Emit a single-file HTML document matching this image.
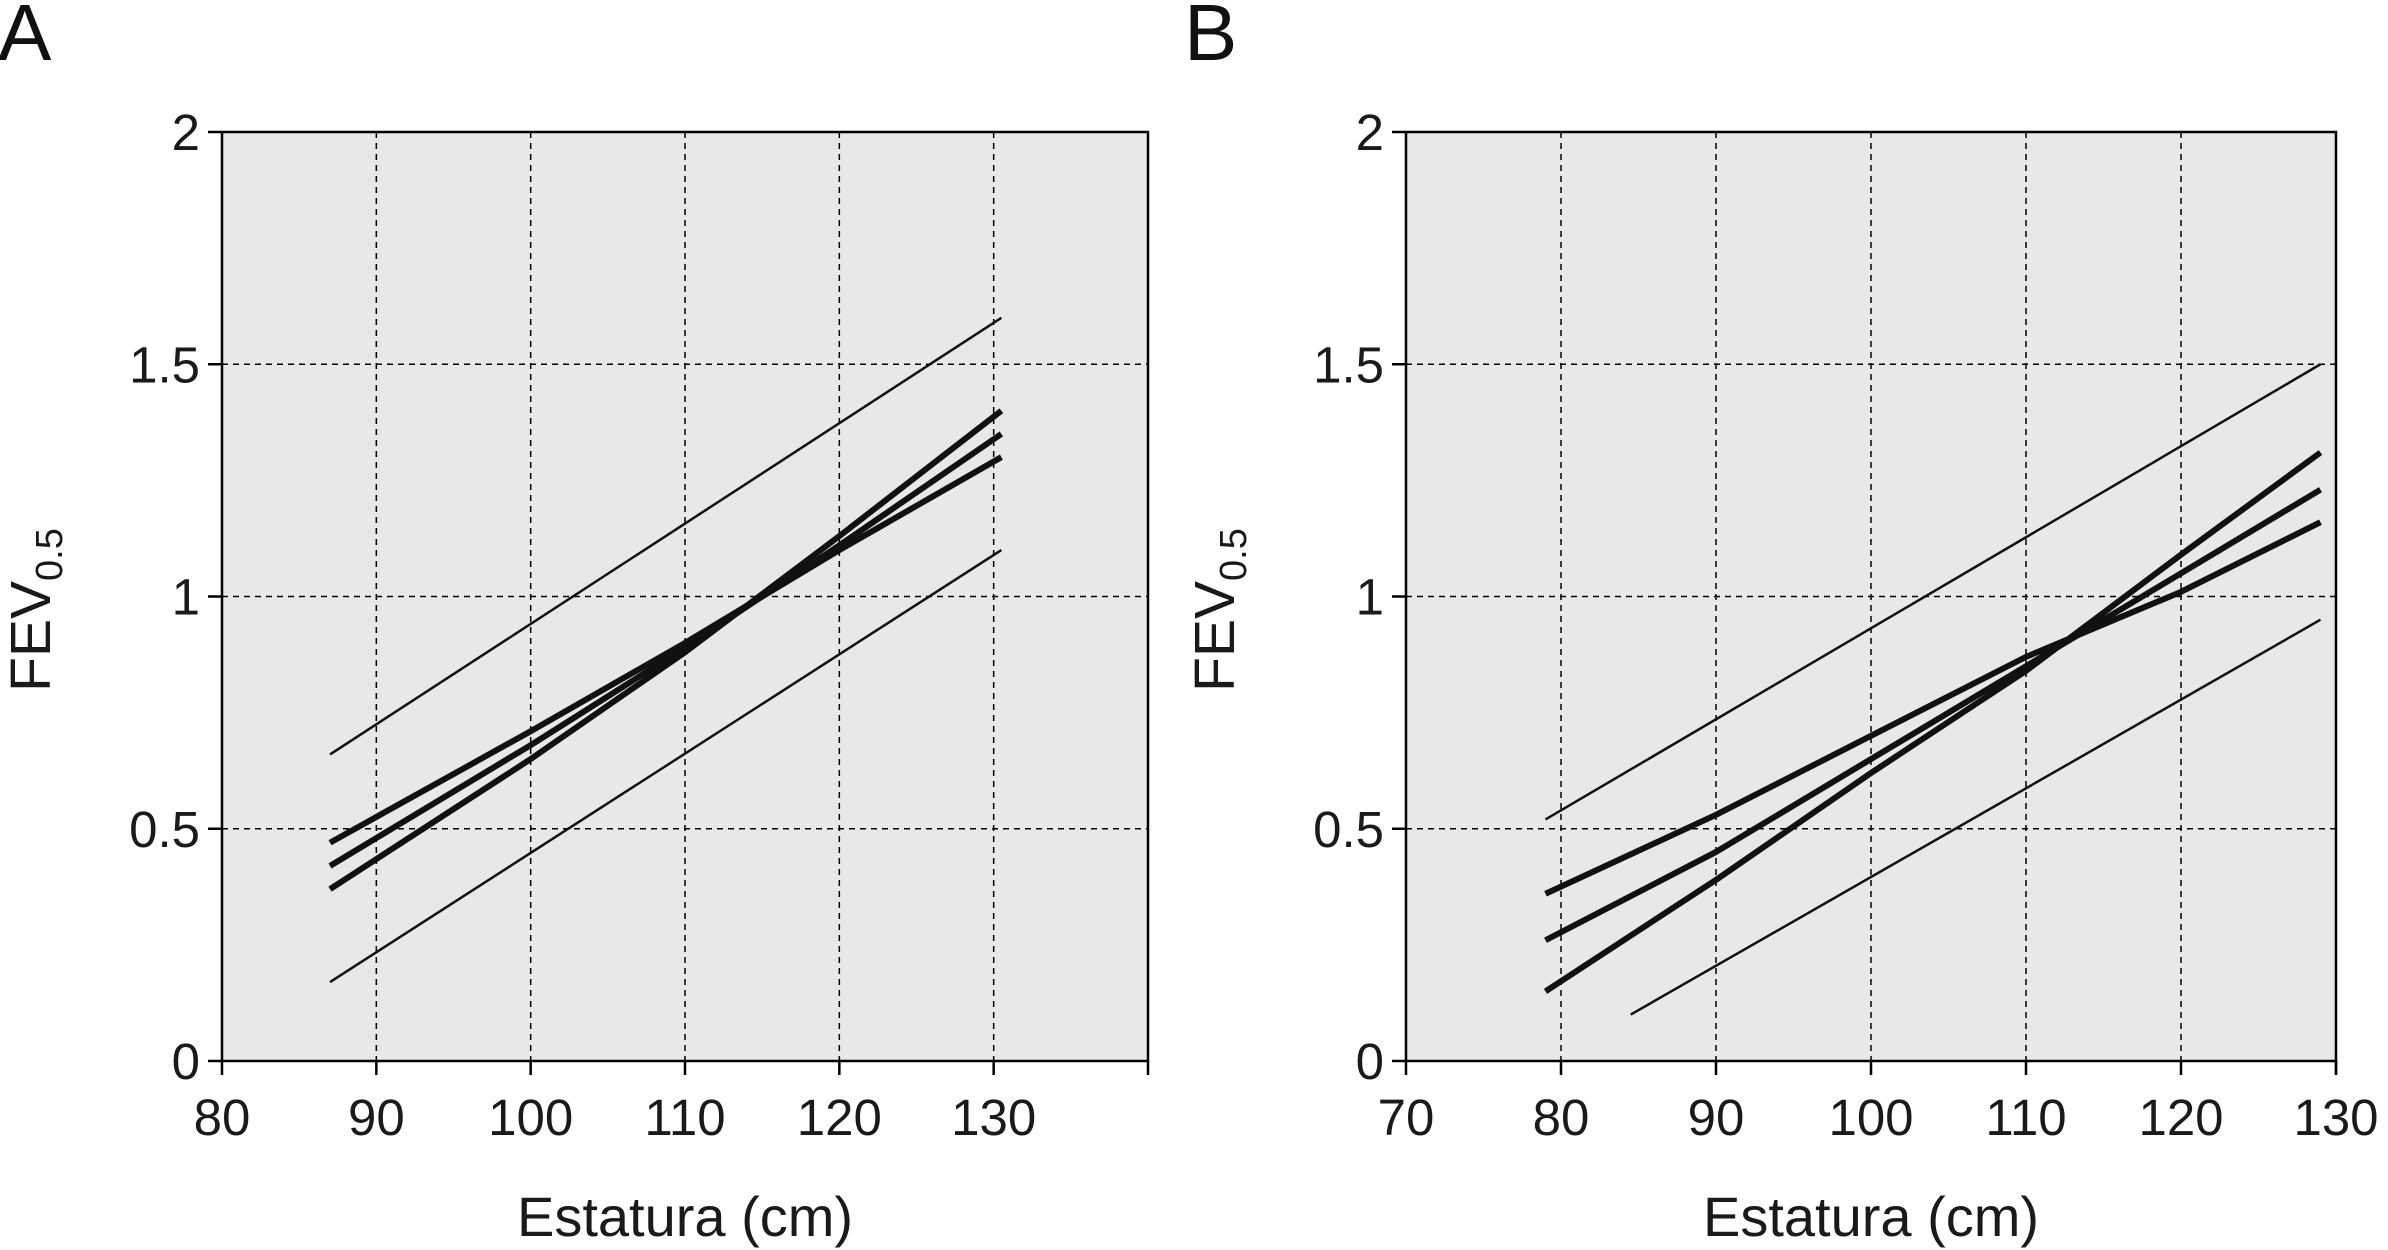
<!DOCTYPE html>
<html><head><meta charset="utf-8"><style>
body{margin:0;background:#fff}
svg{display:block;font-family:"Liberation Sans",sans-serif}
</style></head><body>
<svg id="chart" width="2388" height="1250" viewBox="0 0 2388 1250" xmlns="http://www.w3.org/2000/svg"></svg>
<script>
// Panel A data
const aXTicks = [80, 90, 100, 110, 120, 130];
const aYTicks = [0, 0.5, 1, 1.5, 2];
const aUpperX = [87, 130.5];
const aUpperY = [0.66, 1.60];
const aLowerX = [87, 130.5];
const aLowerY = [0.17, 1.10];
const aThickX = [87, 100, 110, 120, 130.5];
const aThick1 = [0.47, 0.71, 0.90, 1.10, 1.30];
const aThick2 = [0.42, 0.68, 0.89, 1.11, 1.35];
const aThick3 = [0.37, 0.65, 0.88, 1.13, 1.40];
// Panel B data
const bXTicks = [70, 80, 90, 100, 110, 120, 130];
const bYTicks = [0, 0.5, 1, 1.5, 2];
const bUpperX = [79, 129];
const bUpperY = [0.52, 1.50];
const bLowerX = [84.5, 129];
const bLowerY = [0.10, 0.95];
const bThickX = [79, 90, 100, 110, 120, 129];
const bThick1 = [0.36, 0.53, 0.70, 0.87, 1.01, 1.16];
const bThick2 = [0.26, 0.45, 0.65, 0.85, 1.05, 1.23];
const bThick3 = [0.15, 0.39, 0.62, 0.84, 1.09, 1.31];

const NS = "http://www.w3.org/2000/svg";
const svg = document.getElementById('chart');
function mk(tag, attrs, parent){const e=document.createElementNS(NS,tag);for(const k in attrs)e.setAttribute(k,attrs[k]);(parent||svg).appendChild(e);return e;}

function panel(opt){
  const g = mk('g',{});
  
  
  const L=opt.left,R=opt.right,T=132,B=1061;
  const sx=v=>L+(v-opt.xmin)/(opt.xmax-opt.xmin)*(R-L);
  const sy=v=>B-(v-0)/(2-0)*(B-T);
  const bg=mk('rect',{x:L,y:T,width:R-L,height:B-T,fill:'#e8e8e8'},g);
  
  
  opt.xt.forEach(v=>{
    if(v>opt.xmin && v<opt.xmax){const l=mk('line',{x1:sx(v),x2:sx(v),y1:T,y2:B,stroke:'#000','stroke-width':1.5,'stroke-dasharray':'6 5'},g);
      }
  });
  opt.yt.forEach(v=>{
    if(v>0 && v<2){const l=mk('line',{x1:L,x2:R,y1:sy(v),y2:sy(v),stroke:'#000','stroke-width':1.5,'stroke-dasharray':'6 5'},g);
      }
  });
  const fr=mk('path',{d:`M${L},${B} L${L},${T} L${R},${T} L${R},${B} Z`,fill:'none',stroke:'#000','stroke-width':2.5},g);
  
  opt.xt.concat([opt.xmax]).forEach(v=>{
    const t=mk('line',{x1:sx(v),x2:sx(v),y1:B,y2:B+14,stroke:'#000','stroke-width':2.5},g);
    
  });
  opt.xt.forEach(v=>{
    const t=mk('text',{x:sx(v),y:B+74,'font-size':51,'text-anchor':'middle',fill:'#1a1a1a'},g);
    t.textContent=v;
  });
  opt.yt.forEach(v=>{
    const t=mk('line',{x1:L-14,x2:L,y1:sy(v),y2:sy(v),stroke:'#000','stroke-width':2.5},g);
    
    const s=mk('text',{x:L-22,y:sy(v)+18,'font-size':51,'text-anchor':'end',fill:'#1a1a1a'},g);
    s.textContent=v;
  });
  const xt=mk('text',{x:(L+R)/2,y:1236,'font-size':56,'text-anchor':'middle',fill:'#1a1a1a'},g);
  xt.textContent='Estatura (cm)';
  const yt=mk('text',{x:0,y:0,'font-size':57,'text-anchor':'middle',fill:'#1a1a1a',transform:`translate(${L-172},610) rotate(-90)`},g);
  yt.innerHTML='FEV<tspan font-size="38" dy="12">0.5</tspan>';
  
  const pl=mk('text',{x:opt.letterX,y:60,'font-size':80,fill:'#111'},g);
  pl.textContent=opt.letter;
  function line(xs,ys,w,name){
    const p=mk('polyline',{points:xs.map((x,i)=>sx(x)+','+sy(ys[i])).join(' '),fill:'none',stroke:'#111','stroke-width':w,'stroke-linejoin':'round'},g);
    
  }
  line(opt.ux,opt.uy,2.5,'upper-limit-line');
  line(opt.lx,opt.ly,2.5,'lower-limit-line');
  line(opt.tx,opt.t1,6,'series-1-line');
  line(opt.tx,opt.t2,6,'series-2-line');
  line(opt.tx,opt.t3,6,'series-3-line');
}
panel({name:'panel-a',letter:'A',letterX:-2,left:222,right:1148,xmin:80,xmax:140,xt:aXTicks,yt:aYTicks,
  ux:aUpperX,uy:aUpperY,lx:aLowerX,ly:aLowerY,tx:aThickX,t1:aThick1,t2:aThick2,t3:aThick3});
panel({name:'panel-b',letter:'B',letterX:1184,left:1406,right:2336,xmin:70,xmax:130,xt:bXTicks,yt:bYTicks,
  ux:bUpperX,uy:bUpperY,lx:bLowerX,ly:bLowerY,tx:bThickX,t1:bThick1,t2:bThick2,t3:bThick3});
</script>
</body></html>
